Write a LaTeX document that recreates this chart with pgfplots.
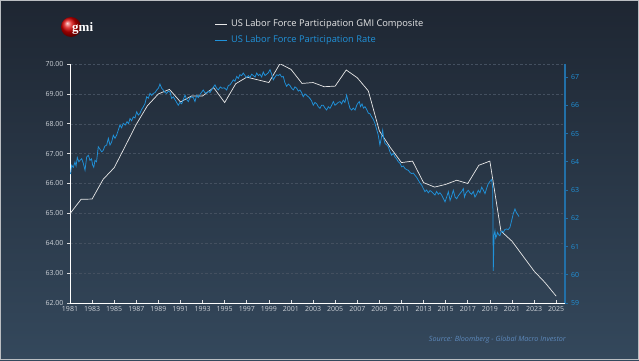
\documentclass[border=0pt]{standalone}
\usepackage{fontspec}
\setmainfont{Open Sans}
\newfontfamily\logofont{Liberation Serif}
\usepackage{pgfplots}
\pgfplotsset{compat=1.18}
\definecolor{bgtop}{RGB}{30,38,50}
\definecolor{bgbot}{RGB}{52,72,92}
\definecolor{lfblue}{RGB}{32,146,218}
\definecolor{axblue}{RGB}{34,112,168}
\definecolor{ticklab}{RGB}{205,210,216}
\definecolor{gridc}{RGB}{68,80,96}
\definecolor{srcc}{RGB}{92,136,186}
\definecolor{gmiline}{RGB}{232,232,232}

\pgfplotstableread{
year val
1981 64.99
1982 65.47
1983 65.48
1984 66.14
1985 66.53
1986 67.25
1987 67.98
1988 68.60
1989 69.00
1990 69.15
1991 68.73
1992 68.93
1993 68.93
1994 69.21
1995 68.71
1996 69.34
1997 69.56
1998 69.47
1999 69.38
2000 70.01
2001 69.82
2002 69.35
2003 69.38
2004 69.24
2005 69.26
2006 69.80
2007 69.54
2008 69.10
2009 67.76
2010 67.20
2011 66.70
2012 66.75
2013 66.03
2014 65.88
2015 65.97
2016 66.11
2017 66.00
2018 66.61
2019 66.75
2020 64.41
2021 64.07
2022 63.57
2023 63.07
2024 62.68
2025 62.23
}\gmitable

\pgfplotstableread{
year val
1981.00 63.60
1981.06 63.58
1981.15 63.88
1981.30 63.80
1981.45 63.99
1981.55 63.85
1981.66 64.15
1981.80 64.00
1981.90 64.05
1982.06 64.11
1982.20 63.95
1982.36 63.70
1982.51 64.17
1982.66 64.23
1982.81 64.05
1982.95 64.10
1983.05 63.88
1983.15 63.80
1983.26 64.05
1983.40 64.00
1983.56 64.53
1983.70 64.45
1983.87 64.35
1984.00 64.40
1984.15 64.55
1984.32 64.59
1984.47 64.83
1984.62 64.59
1984.77 64.70
1984.92 64.94
1985.07 64.83
1985.22 64.94
1985.37 65.12
1985.52 65.30
1985.67 65.20
1985.82 65.36
1986.00 65.30
1986.16 65.42
1986.30 65.35
1986.43 65.53
1986.58 65.45
1986.73 65.59
1986.88 65.55
1987.04 65.77
1987.18 65.65
1987.33 65.71
1987.48 65.85
1987.63 65.94
1987.78 66.05
1987.94 66.30
1988.09 66.25
1988.24 66.42
1988.40 66.35
1988.54 66.42
1988.70 66.45
1988.85 66.54
1989.00 66.60
1989.14 66.75
1989.30 66.60
1989.44 66.54
1989.60 66.45
1989.75 66.42
1989.90 66.50
1990.05 66.47
1990.20 66.24
1990.35 66.30
1990.50 66.20
1990.65 66.10
1990.80 66.00
1990.95 66.10
1991.11 66.05
1991.25 66.20
1991.41 66.36
1991.56 66.20
1991.71 66.13
1991.85 66.25
1992.01 66.30
1992.16 66.27
1992.31 66.13
1992.46 66.35
1992.61 66.27
1992.80 66.40
1993.06 66.54
1993.20 66.45
1993.37 66.42
1993.52 66.50
1993.67 66.45
1993.90 66.60
1994.12 66.72
1994.27 66.60
1994.42 66.54
1994.60 66.65
1994.76 66.60
1994.95 66.62
1995.18 66.54
1995.33 66.70
1995.48 66.72
1995.62 66.80
1995.78 66.90
1995.93 66.85
1996.09 67.02
1996.23 66.95
1996.38 67.08
1996.53 67.05
1996.68 67.14
1996.84 67.05
1996.99 66.98
1997.14 67.05
1997.29 66.98
1997.44 67.10
1997.59 67.05
1997.75 67.00
1997.90 67.14
1998.05 67.05
1998.19 67.10
1998.35 67.00
1998.49 67.18
1998.65 67.05
1998.80 67.10
1998.95 67.15
1999.10 67.26
1999.25 67.10
1999.40 66.90
1999.55 67.00
1999.71 67.08
1999.85 67.05
2000.00 67.10
2000.15 67.00
2000.30 67.02
2000.45 66.80
2000.61 66.67
2000.76 66.75
2000.91 66.70
2001.06 66.60
2001.21 66.54
2001.36 66.65
2001.52 66.60
2001.66 66.50
2001.81 66.54
2001.96 66.45
2002.11 66.30
2002.27 66.40
2002.42 66.35
2002.57 66.30
2002.72 66.24
2002.87 66.15
2003.02 66.00
2003.17 66.10
2003.33 66.05
2003.47 65.95
2003.62 65.89
2003.77 66.00
2003.92 66.00
2004.08 65.90
2004.23 65.83
2004.38 65.95
2004.53 65.89
2004.68 66.00
2004.83 66.13
2004.98 66.00
2005.14 66.05
2005.28 66.10
2005.43 66.13
2005.58 66.05
2005.73 66.18
2005.88 66.10
2006.04 66.36
2006.19 66.10
2006.34 65.89
2006.49 65.83
2006.64 65.90
2006.80 65.83
2006.95 66.00
2007.10 66.10
2007.18 66.13
2007.30 65.95
2007.43 66.05
2007.56 65.90
2007.70 65.95
2007.85 65.85
2008.00 65.72
2008.15 65.70
2008.30 65.59
2008.45 65.50
2008.60 65.36
2008.75 65.15
2008.90 64.94
2009.05 64.59
2009.18 64.85
2009.30 65.12
2009.40 64.80
2009.51 64.65
2009.66 64.60
2009.81 64.53
2009.96 64.35
2010.11 64.23
2010.26 64.30
2010.41 64.17
2010.56 64.10
2010.71 64.00
2010.86 63.95
2011.02 63.82
2011.17 63.85
2011.32 63.76
2011.47 63.72
2011.62 63.70
2011.77 63.62
2011.92 63.58
2012.07 63.60
2012.22 63.52
2012.37 63.45
2012.52 63.35
2012.67 63.25
2012.83 63.17
2012.98 63.05
2013.13 62.94
2013.28 63.00
2013.43 62.90
2013.58 62.98
2013.73 62.94
2013.88 62.88
2014.03 62.82
2014.18 62.95
2014.33 62.85
2014.48 62.90
2014.64 62.82
2014.79 62.70
2014.94 62.58
2015.09 62.75
2015.24 62.94
2015.40 62.63
2015.55 62.80
2015.69 62.99
2015.85 62.75
2016.00 62.69
2016.15 62.80
2016.29 62.87
2016.45 62.95
2016.60 63.05
2016.70 62.75
2016.84 62.90
2017.05 62.99
2017.20 62.90
2017.35 62.85
2017.50 62.95
2017.65 62.75
2017.80 62.85
2017.95 62.99
2018.10 62.90
2018.26 63.10
2018.40 63.00
2018.56 62.87
2018.70 63.05
2018.85 63.22
2019.00 63.30
2019.16 63.37
2019.26 63.05
2019.31 60.14
2019.38 61.40
2019.46 61.56
2019.53 61.30
2019.61 61.38
2019.70 61.50
2019.76 61.45
2019.84 61.40
2019.91 61.38
2020.00 61.50
2020.10 61.55
2020.21 61.50
2020.36 61.60
2020.51 61.62
2020.66 61.60
2020.82 61.68
2020.97 61.92
2021.12 62.16
2021.27 62.33
2021.40 62.20
2021.48 62.16
2021.63 62.06
}\lfprtable

\begin{document}
\begin{tikzpicture}[x=1pt,y=1pt]
\useasboundingbox (0,0) rectangle (639,360);
\shade[top color=bgtop, bottom color=bgbot] (0,0) rectangle (639,360);
\draw[white!70!bgtop, line width=0.8pt] (0.4,0.4) rectangle (638.6,359.6);

% logo
\shade[ball color=red!85!black] (71,333) circle (10);
\node[anchor=west, inner sep=0pt, text=white] at (72,331.5) {\logofont\fontsize{13}{14}\selectfont\bfseries gmi};

% legend
\draw[gmiline, line width=0.7pt] (215,336) -- (227,336);
\node[anchor=west, inner sep=0pt, text=gmiline] at (231,336) {\fontsize{9.3}{11}\selectfont US Labor Force Participation GMI Composite};
\draw[lfblue, line width=0.7pt] (215,320) -- (227,320);
\node[anchor=west, inner sep=0pt, text=lfblue] at (231,320) {\fontsize{9.3}{11}\selectfont US Labor Force Participation Rate};

% source
\node[anchor=east, inner sep=0pt, text=srcc] at (566,20) {\fontsize{7.2}{8}\selectfont\itshape Source: Bloomberg - Global Macro Investor};

\begin{axis}[
  at={(70pt,57pt)}, anchor=south west, scale only axis,
  width=495pt, height=239pt,
  xmin=1981, xmax=2025.8, ymin=62, ymax=70,
  axis x line*=bottom, axis y line*=left,
  axis line style={white, line width=0.8pt},
  xtick={1981,1983,...,2025},
  ytick={62,63,...,70},
  xtick align=inside, ytick align=outside,
  major tick length=3pt,
  tick style={white!85!bgtop, line width=0.6pt},
  ymajorgrids,
  grid style={gridc, dash pattern=on 2.5pt off 2pt, line width=0.5pt},
  ticklabel style={font=\fontsize{7}{8}\selectfont, text=ticklab},
  /pgf/number format/assume math mode=true,
  xticklabel style={/pgf/number format/1000 sep={}},
  yticklabel style={/pgf/number format/fixed, /pgf/number format/fixed zerofill, /pgf/number format/precision=2},
]
\addplot[gmiline, line width=0.7pt, mark=none] table[x=year, y=val] {\gmitable};
\end{axis}

\begin{axis}[
  at={(70pt,57pt)}, anchor=south west, scale only axis,
  width=495pt, height=239pt,
  xmin=1981, xmax=2025.8, ymin=59, ymax=67.46,
  axis x line=none, axis y line*=right,
  axis line style={axblue, line width=1.3pt},
  ytick={59,60,...,67},
  ytick align=outside,
  major tick length=2.5pt,
  tick style={axblue, line width=0.6pt},
  ticklabel style={font=\fontsize{7}{8}\selectfont, text=lfblue},
  /pgf/number format/assume math mode=true,
]
\addplot[lfblue, line width=0.75pt, mark=none] table[x=year, y=val] {\lfprtable};
\end{axis}
\end{tikzpicture}
\end{document}
